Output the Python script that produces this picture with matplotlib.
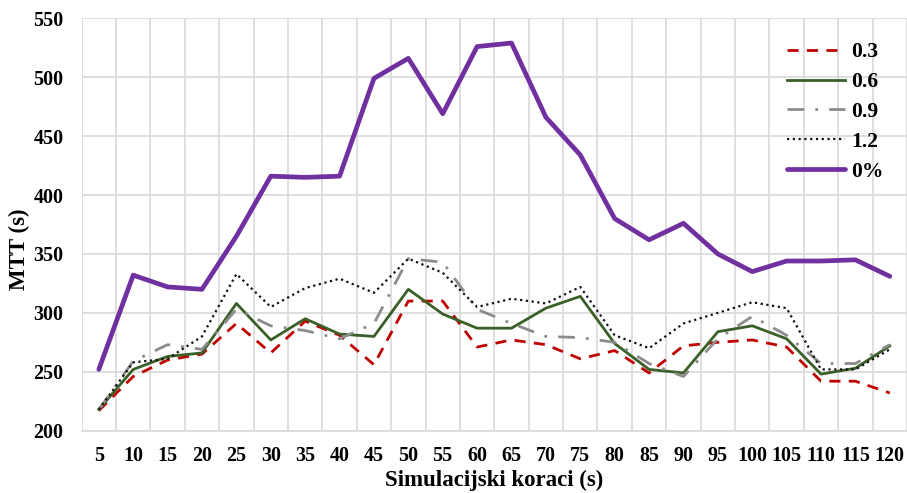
import numpy as np
import matplotlib
matplotlib.use('Agg')
import matplotlib.pyplot as plt

# ── Data ─────────────────────────────────────────────────
steps = [5, 10, 15, 20, 25, 30, 35, 40, 45, 50, 55, 60,
         65, 70, 75, 80, 85, 90, 95, 100, 105, 110, 115, 120]

mtt_03 = [217, 246, 260, 265, 291, 266, 293, 281, 256, 310, 310, 271,
          277, 273, 261, 268, 249, 272, 275, 277, 271, 242, 242, 232]
mtt_06 = [218, 252, 263, 266, 308, 277, 295, 282, 280, 320, 299, 287,
          287, 304, 314, 274, 252, 249, 284, 289, 278, 248, 253, 272]
mtt_09 = [218, 259, 273, 269, 303, 289, 285, 278, 291, 346, 343, 303,
          291, 280, 279, 275, 257, 246, 278, 297, 281, 257, 257, 273]
mtt_12 = [218, 258, 261, 280, 333, 305, 321, 329, 317, 346, 334, 305,
          312, 308, 322, 281, 270, 291, 300, 309, 304, 252, 252, 269]
mtt_0 = [252, 332, 322, 320, 365, 416, 415, 416, 499, 516, 469, 526,
         529, 466, 434, 380, 362, 376, 350, 335, 344, 344, 345, 331]

series_labels = ['0.3', '0.6', '0.9', '1.2', '0%']

# ── Figure ───────────────────────────────────────────────
FONT = ['Liberation Serif', 'DejaVu Serif']
W, H = 907, 493
fig = plt.figure(figsize=(W / 100, H / 100), dpi=100)
ax = fig.add_axes([0.090, 0.1264, 0.910, 0.8365])

x = np.arange(len(steps))
ax.plot(x, mtt_03, color='#C00000', lw=2.0, ls=(0, (4, 3)), label=series_labels[0])
ax.plot(x, mtt_06, color='#3A5F27', lw=2.0, ls='-', label=series_labels[1])
ax.plot(x, mtt_09, color='#8C8C8C', lw=2.0, ls=(0, (6, 4, 1, 4)), label=series_labels[2])
ax.plot(x, mtt_12, color='#111111', lw=1.6, ls=(0, (1, 1.6)), label=series_labels[3])
ax.plot(x, mtt_0, color='#7030A0', lw=3.4, ls='-', solid_capstyle='round',
        label=series_labels[4])

ax.set_xlim(-0.5, len(steps) - 0.5)
ax.set_ylim(200, 550)
ax.set_yticks(np.arange(200, 551, 50))
ax.set_xticks(x)
ax.set_xticklabels([str(s) for s in steps])
ax.set_xticks(np.arange(-0.5, len(steps), 1.0), minor=True)

ax.grid(False)
ax.grid(True, which='minor', axis='x', color='#D9D9D9', lw=1.2)
ax.grid(True, which='major', axis='y', color='#D9D9D9', lw=1.2)
ax.set_axisbelow(True)
for sp in ax.spines.values():
    sp.set_visible(False)
ax.spines['bottom'].set_visible(True)
ax.spines['bottom'].set_color('#D9D9D9')
ax.spines['bottom'].set_linewidth(1.2)

ax.tick_params(which='both', length=0)
ax.tick_params(axis='x', pad=11)
ax.tick_params(axis='y', pad=13)
for lbl in ax.get_xticklabels() + ax.get_yticklabels():
    lbl.set_fontfamily(FONT)
    lbl.set_fontweight('bold')
    lbl.set_fontsize(14.4)

ax.set_xlabel('Simulacijski koraci (s)', fontfamily=FONT, fontweight='bold',
              fontsize=16.5)
ax.xaxis.set_label_coords(0.5, -0.095)
ax.set_ylabel('MTT (s)', fontfamily=FONT, fontweight='bold', fontsize=16.5)
ax.yaxis.set_label_coords(-0.0626, 0.44)

leg = ax.legend(loc='upper left', bbox_to_anchor=(787 / W, 1 - 42 / H),
                bbox_transform=fig.transFigure, frameon=False,
                borderpad=0, borderaxespad=0,
                prop={'family': FONT, 'weight': 'bold', 'size': 15.5},
                handlelength=2.7, handletextpad=0.3, labelspacing=0.46)

fig.savefig('out.png', dpi=100)
